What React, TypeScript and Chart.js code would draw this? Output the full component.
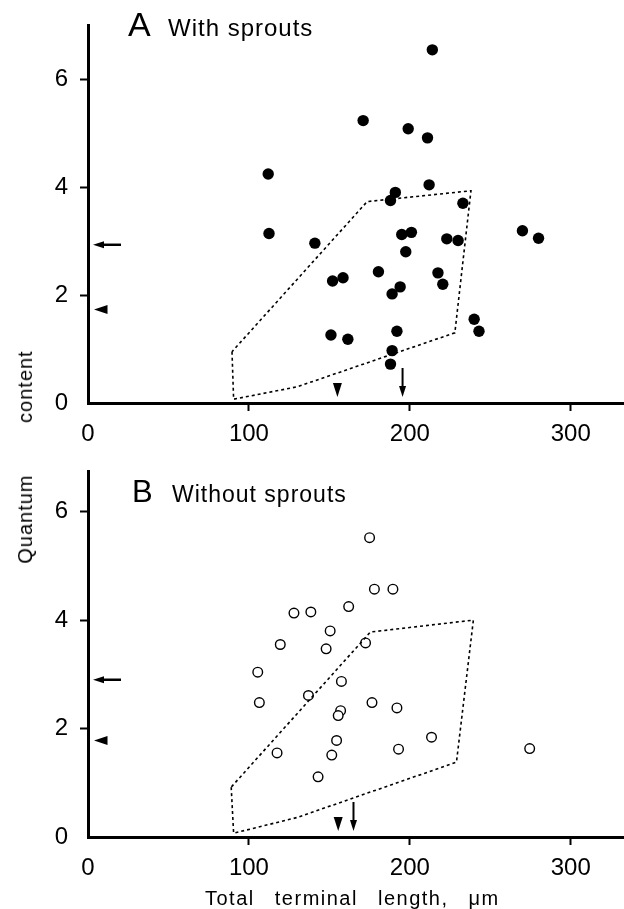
import React, { useEffect, useRef } from 'react';
import { Chart, registerables } from 'chart.js';

Chart.register(...registerables);

const FONT = "'Liberation Sans', Arial, Helvetica, sans-serif";

// ---- shared axes ----
const xTickValues = [0, 100, 200, 300];
const yTickValues = [0, 2, 4, 6];
const xMax = 332.5;
const yMaxA = 7;
const yMaxB = 6.75;

// ---- Panel A: with sprouts ----
const sproutLength = [214, 171, 199, 211, 112, 212, 191, 188, 233, 112.5, 270, 280, 141, 195, 201, 223, 230, 197.5, 180.5, 152, 158.5, 217.5, 220.5, 194, 189, 240, 243, 192, 151, 161.5, 189, 188];
const sproutQuantum = [6.54, 5.23, 5.08, 4.91, 4.24, 4.04, 3.9, 3.75, 3.7, 3.14, 3.19, 3.05, 2.96, 3.12, 3.16, 3.04, 3.01, 2.8, 2.43, 2.26, 2.32, 2.41, 2.2, 2.15, 2.02, 1.55, 1.33, 1.33, 1.26, 1.18, 0.97, 0.72];
const normalRangeALength = [89.5, 90.5, 130, 228, 238, 173.5, 89.5];
const normalRangeAQuantum = [0.95, 0.07, 0.3, 1.3, 3.93, 3.73, 0.95];
const meanQuantumA = 2.93;
const medianQuantumA = 1.73;
const meanLengthA = 195.5;
const medianLengthA = 155;

// ---- Panel B: without sprouts ----
const plainLength = [175, 178, 189.5, 162, 128, 138.5, 150.5, 119.5, 172.5, 148, 105.5, 157.5, 106.5, 137, 176.5, 192, 157, 155.5, 154.5, 213.5, 117.5, 151.5, 193, 274.5, 143];
const plainQuantum = [5.52, 4.57, 4.57, 4.25, 4.13, 4.15, 3.8, 3.55, 3.58, 3.47, 3.04, 2.87, 2.48, 2.61, 2.48, 2.38, 2.33, 2.24, 1.78, 1.84, 1.55, 1.51, 1.62, 1.63, 1.11];
const normalRangeBLength = [89, 90.5, 130, 229, 239.5, 175.5, 89];
const normalRangeBQuantum = [0.92, 0.07, 0.36, 1.38, 4.0, 3.78, 0.92];
const meanQuantumB = 2.9;
const medianQuantumB = 1.78;
const meanLengthB = 165;
const medianLengthB = 155.5;

const zip = (xs: number[], ys: number[]) => xs.map((x, i) => ({ x, y: ys[i] }));

type Markers = { yArrow: number; yWedge: number; xArrow: number; xWedge: number };

const markerPlugin = {
  id: 'meanMarkers',
  afterDatasetsDraw(chart: any) {
    const m: Markers = chart.options.plugins.meanMarkers;
    const { ctx, chartArea, scales } = chart;
    const left = chartArea.left;
    const bottom = chartArea.bottom;
    ctx.save();
    ctx.fillStyle = '#000';
    ctx.strokeStyle = '#000';
    // horizontal arrow pointing to the y axis
    const ya = scales.y.getPixelForValue(m.yArrow);
    ctx.lineWidth = 2.5;
    ctx.beginPath();
    ctx.moveTo(left + 14, ya);
    ctx.lineTo(left + 33, ya);
    ctx.stroke();
    ctx.beginPath();
    ctx.moveTo(left + 5, ya);
    ctx.lineTo(left + 16, ya - 3.5);
    ctx.lineTo(left + 16, ya + 3.5);
    ctx.closePath();
    ctx.fill();
    // wedge pointing to the y axis
    const yw = scales.y.getPixelForValue(m.yWedge);
    ctx.beginPath();
    ctx.moveTo(left + 6, yw);
    ctx.lineTo(left + 19.5, yw - 4.5);
    ctx.lineTo(left + 19.5, yw + 4.5);
    ctx.closePath();
    ctx.fill();
    // vertical arrow pointing to the x axis
    const xa = scales.x.getPixelForValue(m.xArrow);
    ctx.lineWidth = 2;
    ctx.beginPath();
    ctx.moveTo(xa, bottom - 35);
    ctx.lineTo(xa, bottom - 14);
    ctx.stroke();
    ctx.beginPath();
    ctx.moveTo(xa, bottom - 6);
    ctx.lineTo(xa - 3.5, bottom - 17);
    ctx.lineTo(xa + 3.5, bottom - 17);
    ctx.closePath();
    ctx.fill();
    // wedge pointing to the x axis
    const xw = scales.x.getPixelForValue(m.xWedge);
    ctx.beginPath();
    ctx.moveTo(xw, bottom - 6);
    ctx.lineTo(xw - 4.5, bottom - 20);
    ctx.lineTo(xw + 4.5, bottom - 20);
    ctx.closePath();
    ctx.fill();
    ctx.restore();
  },
};

function makeConfig(opts: {
  points: { x: number; y: number }[];
  polygon: { x: number; y: number }[];
  filled: boolean;
  yMax: number;
  padTop: number;
  xAxisHeight: number;
  markers: Markers;
}): any {
  const tickColor = (c: any) => (c.tick && c.tick.value === 0 ? 'rgba(0,0,0,0)' : '#000');
  return {
    type: 'scatter',
    data: {
      datasets: [
        {
          data: opts.polygon,
          showLine: true,
          borderColor: '#000',
          borderWidth: 1.6,
          borderDash: [3, 3],
          pointRadius: 0,
          fill: false,
          tension: 0,
        },
        {
          data: opts.points,
          showLine: false,
          pointRadius: opts.filled ? 5.7 : 4.8,
          pointBackgroundColor: opts.filled ? '#000' : '#fff',
          pointBorderColor: '#000',
          pointBorderWidth: opts.filled ? 0 : 1.4,
        },
      ],
    },
    options: {
      responsive: false,
      animation: false,
      events: [],
      layout: { autoPadding: false, padding: { top: opts.padTop, right: 1, left: 0, bottom: 0 } },
      plugins: {
        legend: { display: false },
        tooltip: { enabled: false },
        meanMarkers: opts.markers,
      },
      scales: {
        x: {
          type: 'linear',
          min: 0,
          max: xMax,
          afterBuildTicks: (s: any) => {
            s.ticks = xTickValues.map((v) => ({ value: v }));
          },
          afterFit: (s: any) => {
            s.height = opts.xAxisHeight;
            s.paddingLeft = 0;
            s.paddingRight = 0;
          },
          grid: { drawOnChartArea: false, drawTicks: true, tickLength: 8, tickWidth: 2, tickColor },
          border: { display: true, color: '#000', width: 3 },
          ticks: { color: '#000', font: { family: FONT, size: 24 }, padding: 9, maxRotation: 0, autoSkip: false },
        },
        y: {
          type: 'linear',
          min: 0,
          max: opts.yMax,
          afterBuildTicks: (s: any) => {
            s.ticks = yTickValues.map((v) => ({ value: v }));
          },
          afterFit: (s: any) => {
            s.width = 88;
            s.paddingTop = 0;
            s.paddingBottom = 0;
          },
          grid: { drawOnChartArea: false, drawTicks: true, tickLength: 8, tickWidth: 2, tickColor },
          border: { display: true, color: '#000', width: 3 },
          ticks: { color: '#000', font: { family: FONT, size: 24 }, padding: 12, autoSkip: false },
        },
      },
    },
    plugins: [markerPlugin],
  };
}

const label = (text: string, left: number, top: number, size: number, extra: React.CSSProperties = {}) => (
  <div
    style={{
      position: 'absolute',
      left,
      top,
      fontFamily: FONT,
      fontSize: size,
      lineHeight: 1,
      whiteSpace: 'nowrap',
      color: '#000',
      ...extra,
    }}
  >
    {text}
  </div>
);

export default function App() {
  const refA = useRef<HTMLCanvasElement>(null);
  const refB = useRef<HTMLCanvasElement>(null);

  useEffect(() => {
    const a = new Chart(
      refA.current!,
      makeConfig({
        points: zip(sproutLength, sproutQuantum),
        polygon: zip(normalRangeALength, normalRangeAQuantum),
        filled: true,
        yMax: yMaxA,
        padTop: 25,
        xAxisHeight: 52,
        markers: { yArrow: meanQuantumA, yWedge: medianQuantumA, xArrow: meanLengthA, xWedge: medianLengthA },
      })
    );
    const b = new Chart(
      refB.current!,
      makeConfig({
        points: zip(plainLength, plainQuantum),
        polygon: zip(normalRangeBLength, normalRangeBQuantum),
        filled: false,
        yMax: yMaxB,
        padTop: 31,
        xAxisHeight: 72,
        markers: { yArrow: meanQuantumB, yWedge: medianQuantumB, xArrow: meanLengthB, xWedge: medianLengthB },
      })
    );
    return () => {
      a.destroy();
      b.destroy();
    };
  }, []);

  return (
    <div style={{ position: 'absolute', left: 0, top: 0, width: 624, height: 909, background: '#fff', overflow: 'hidden' }}>
      <canvas ref={refA} width={624} height={455} style={{ position: 'absolute', left: 0, top: 0, width: 624, height: 455 }} />
      <canvas ref={refB} width={624} height={469} style={{ position: 'absolute', left: 0, top: 440, width: 624, height: 469 }} />
      {label('A', 128, 7, 34)}
      {label('With sprouts', 168, 16, 24, { letterSpacing: '1px' })}
      {label('B', 132, 476, 31)}
      {label('Without sprouts', 172, 482.5, 23, { letterSpacing: '1px' })}
      {label('Total terminal length, μm', 205, 888, 20, { letterSpacing: '1.5px', wordSpacing: '13px' })}
      <div
        style={{
          position: 'absolute',
          left: 25,
          top: 457,
          transform: 'translate(-50%, -50%) rotate(-90deg)',
          fontFamily: FONT,
          fontSize: 20,
          lineHeight: 1,
          whiteSpace: 'nowrap',
          letterSpacing: '1px',
          wordSpacing: '45px',
          color: '#000',
        }}
      >
        Quantum content
      </div>
    </div>
  );
}
